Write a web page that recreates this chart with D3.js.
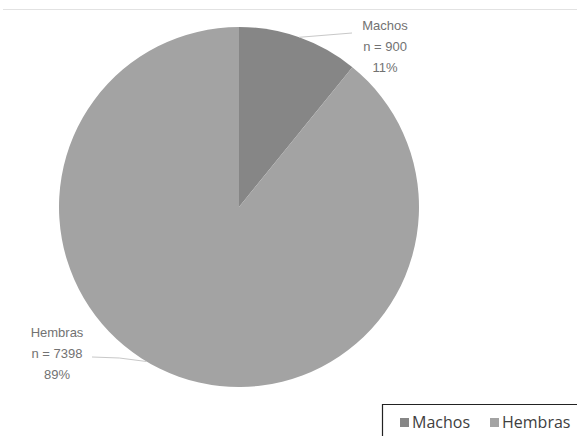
<!DOCTYPE html>
<html>
<head>
<meta charset="utf-8">
<script src="https://cdn.jsdelivr.net/npm/d3@7"></script>
<style>
  body { margin: 0; background: #fff; }
  svg { display: block; }
</style>
</head>
<body>
<div id="chart"></div>
<script>
// data
const categories = ["Machos", "Hembras"];
const counts = [900, 7398];
const percents = ["11%", "89%"];
const colors = ["#868686", "#a3a3a3"];

const W = 577, H = 436;
const cx = 239, cy = 207, r = 180;

const svg = d3.select("#chart")
  .append("svg")
  .attr("width", W)
  .attr("height", H);

// top frame line
svg.append("line")
  .attr("x1", 3).attr("x2", W)
  .attr("y1", 9.5).attr("y2", 9.5)
  .attr("stroke", "#e2e2e2")
  .attr("stroke-width", 1);

const pie = d3.pie().sort(null).value(d => d);
const arcs = pie(counts);
const arc = d3.arc().innerRadius(0).outerRadius(r);

const g = svg.append("g").attr("transform", `translate(${cx},${cy})`);

g.selectAll("path")
  .data(arcs)
  .enter()
  .append("path")
  .attr("d", arc)
  .attr("fill", (d, i) => colors[i]);

// labels with leader lines
const labelPos = [
  {x: 385, y: 25, angle: 0.34, anchorX: 352, anchorY: 33},
  {x: 57, y: 332, angle: 3.68, anchorX: 92, anchorY: 357}
];

function pointOnArc(a, rad) {
  return [cx + rad * Math.sin(a), cy - rad * Math.cos(a)];
}

arcs.forEach(function (d, i) {
  const p = labelPos[i];
  const edge = pointOnArc(p.angle, r);
  svg.append("path")
    .attr("d", i === 0
      ? `M${edge[0]},${edge[1]} L${p.anchorX},${p.anchorY}`
      : `M${p.anchorX},${p.anchorY} L${(p.anchorX + edge[0]) / 2},${p.anchorY + 1} L${edge[0]},${edge[1]}`)
    .attr("fill", "none")
    .attr("stroke", "#c8c8c8")
    .attr("stroke-width", 1);

  const t = svg.append("text")
    .attr("text-anchor", "middle")
    .attr("font-family", "Liberation Sans, Arial, sans-serif")
    .attr("font-size", 13)
    .attr("fill", "#727272");
  [categories[i], "n = " + counts[i], percents[i]].forEach(function (s, k) {
    t.append("tspan")
      .attr("x", p.x)
      .attr("y", p.y + 5 + k * 21)
      .text(s);
  });
});

// legend box
svg.append("path")
  .attr("d", `M382.5,436 L382.5,404.5 L${W},404.5`)
  .attr("fill", "none")
  .attr("stroke", "#222")
  .attr("stroke-width", 1.2);

const legend = svg.append("g")
  .attr("font-family", "Open Sans, Liberation Sans, sans-serif")
  .attr("font-size", 16)
  .attr("fill", "#404040");

const legendX = [400, 490];
categories.forEach(function (c, i) {
  legend.append("rect")
    .attr("x", legendX[i])
    .attr("y", 418)
    .attr("width", 9)
    .attr("height", 9)
    .attr("fill", colors[i]);
  legend.append("text")
    .attr("x", legendX[i] + 12)
    .attr("y", 428)
    .text(c);
});
</script>
</body>
</html>
